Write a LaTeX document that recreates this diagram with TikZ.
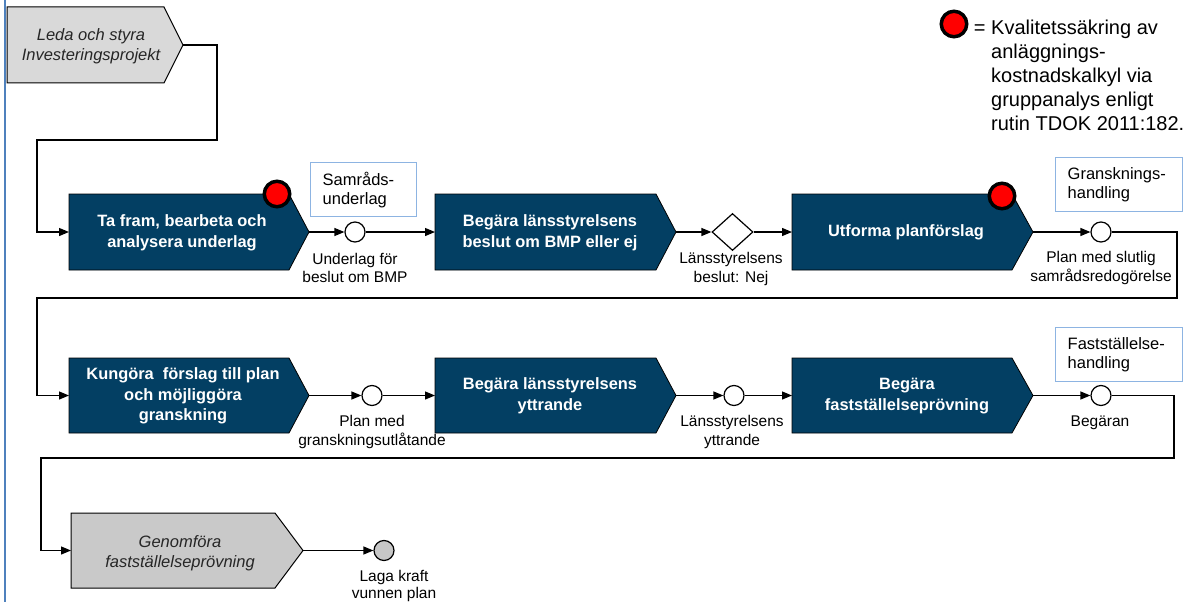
\documentclass[tikz,border=0pt]{standalone}
\usepackage{fontspec}
\setmainfont{Liberation Sans}
\usetikzlibrary{arrows.meta,shapes.geometric}
\definecolor{navy}{HTML}{033F63}
\definecolor{lgray}{HTML}{D9D9D9}
\definecolor{mgray}{HTML}{C9C9C9}
\definecolor{docblue}{HTML}{8DB4E2}
\definecolor{edgeblue}{HTML}{4F81BD}
\newcommand\procshape[6]{%
  \path[#1] (#2,#3) -- (#4,#3) -- (#5,{(#3+#6)/2}) -- (#4,#6) -- (#2,#6) -- cycle;}
\begin{document}
\begin{tikzpicture}[x=1pt,y=-1pt,
  navybox/.style={fill=navy, draw=black, line width=0.8pt},
  graybox/.style={fill=lgray, draw=black, line width=1pt},
  graybox2/.style={fill=mgray, draw=black, line width=1pt},
  boxtext/.style={text=white, font=\bfseries\fontsize{16.4}{20.5}\selectfont, align=center, inner sep=0pt},
  ittext/.style={text=black!85, font=\itshape\fontsize{16.5}{20}\selectfont, align=center, inner sep=0pt},
  lbl/.style={font=\fontsize{15.5}{18.5}\selectfont, align=center, inner sep=0pt},
  event/.style={circle, draw=black, fill=white, line width=1.2pt, minimum size=20pt, inner sep=0pt},
  qa/.style={circle, draw=black, fill=red, line width=3.5pt, minimum size=25.5pt, inner sep=0pt},
  dia/.style={diamond, draw=black, fill=white, line width=1.2pt, minimum width=41pt, minimum height=37pt, inner sep=0pt},
  doc/.style={draw=docblue, line width=1.4pt, fill=white, align=left, font=\fontsize{16.5}{19}\selectfont, inner xsep=12pt, inner ysep=0pt, anchor=north west},
  flow/.style={draw=black, line width=1.2pt},
  arr/.style={flow, -{Triangle[length=10pt,width=8pt]}}
]
\useasboundingbox (0,0) rectangle (1195,602);
\draw[edgeblue, line width=2pt] (5,0) -- (5,602);

% ---- row 0
\procshape{graybox}{7}{7}{164}{183}{83}
\coordinate (b0-out) at (183,45);
\node[ittext] (b0) at (91,46) {Leda och styra\\Investeringsprojekt};

% ---- row 1
\procshape{navybox}{69}{194}{289}{309}{270}
\coordinate (b1-in) at (69,232); \coordinate (b1-out) at (309,232);
\node[boxtext] (b1) at (182,233) {Ta fram, bearbeta och\\analysera underlag};

\node[event] (e1) at (355,232) {};
\node[lbl] (l1) at (355,268) {Underlag för\\beslut om BMP};
\node[doc, text width=82pt, minimum height=54pt] (samr) at (310,162) {Samråds-\\underlag};

\procshape{navybox}{435}{194}{656}{676}{270}
\coordinate (b2-in) at (435,232); \coordinate (b2-out) at (676,232);
\node[boxtext] (b2) at (550,233) {Begära länsstyrelsens\\beslut om BMP eller ej};
\node[dia] (d1) at (732.5,232) {};
\node[lbl] (l2) at (731,269) {Länsstyrelsens\\beslut: Nej};

\procshape{navybox}{792}{194}{1012}{1033}{270}
\coordinate (b3-in) at (792,232); \coordinate (b3-out) at (1033,232);
\node[boxtext] (b3) at (906,232) {Utforma planförslag};
\node[event] (e2) at (1101,232) {};
\node[lbl] (l3) at (1101,268) {Plan med slutlig\\samrådsredogörelse};
\node[doc, text width=103pt, minimum height=54pt] (gran) at (1055,157) {Gransknings-\\handling};

% ---- row 2
\procshape{navybox}{69}{358}{289}{309}{433}
\coordinate (b4-in) at (69,395.5); \coordinate (b4-out) at (309,395.5);
\node[boxtext] (b4) at (183,396) {Kungöra\ \ förslag till plan\\och möjliggöra\\granskning};
\node[event] (e3) at (372,395.5) {};
\node[lbl] (l4) at (372,432) {Plan med\\granskningsutlåtande};

\procshape{navybox}{435}{358}{656}{676}{433}
\coordinate (b5-in) at (435,395.5); \coordinate (b5-out) at (676,395.5);
\node[boxtext] (b5) at (550,396) {Begära länsstyrelsens\\yttrande};
\node[event] (e4) at (734,395.5) {};
\node[lbl] (l5) at (732,432) {Länsstyrelsens\\yttrande};

\procshape{navybox}{792}{358}{1012}{1033}{433}
\coordinate (b6-in) at (792,395.5); \coordinate (b6-out) at (1033,395.5);
\node[boxtext] (b6) at (907,396) {Begära\\fastställelseprövning};
\node[event] (e5) at (1101,395.5) {};
\node[lbl] (l6) at (1100,423) {Begäran};
\node[doc, text width=103pt, minimum height=54pt] (fast) at (1055,327) {Fastställelse-\\handling};

% ---- row 3
\procshape{graybox2}{71}{513}{275}{303}{588}
\coordinate (b7-in) at (71,550.5); \coordinate (b7-out) at (303,550.5);
\node[ittext] (b7) at (180,553) {Genomföra\\fastställelseprövning};
\node[event, fill=black!22] (e6) at (384,550.5) {};
\node[lbl, font=\fontsize{15.5}{17}\selectfont] (l7) at (394,586) {Laga kraft\\vunnen plan};

% ---- connectors
\coordinate (r0a) at (217,140); \coordinate (r0b) at (37,140);
\draw[arr] (b0-out) -| (r0a) -- (r0b) |- (b1-in);
\draw[arr] (b1-out) -- (e1.west);
\draw[arr] (e1.east) -- (b2-in);
\draw[arr] (b2-out) -- (d1.west);
\draw[arr] (d1.east) -- (b3-in);
\draw[arr] (b3-out) -- (e2.west);
\coordinate (r1a) at (1177,298); \coordinate (r1b) at (37,298);
\draw[arr] (e2.east) -| (r1a) -- (r1b) |- (b4-in);
\draw[arr] (b4-out) -- (e3.west);
\draw[arr] (e3.east) -- (b5-in);
\draw[arr] (b5-out) -- (e4.west);
\draw[arr] (e4.east) -- (b6-in);
\draw[arr] (b6-out) -- (e5.west);
\coordinate (r2a) at (1174,458); \coordinate (r2b) at (41,458);
\draw[arr] (e5.east) -| (r2a) -- (r2b) |- (b7-in);
\draw[arr] (b7-out) -- (e6.west);

% ---- quality markers
\node[qa] (q1) at (277,194) {};
\node[qa] (q2) at (1002,196) {};

% ---- legend
\node[qa] (q0) at (954,24) {};
\node[anchor=north west, inner sep=0pt, align=left, font=\fontsize{20}{24}\selectfont] (legend) at (991,19.5)
  {\llap{= }Kvalitetssäkring av\\anläggnings-\\kostnadskalkyl via\\gruppanalys enligt\\rutin TDOK 2011:182.};
\end{tikzpicture}
\end{document}
